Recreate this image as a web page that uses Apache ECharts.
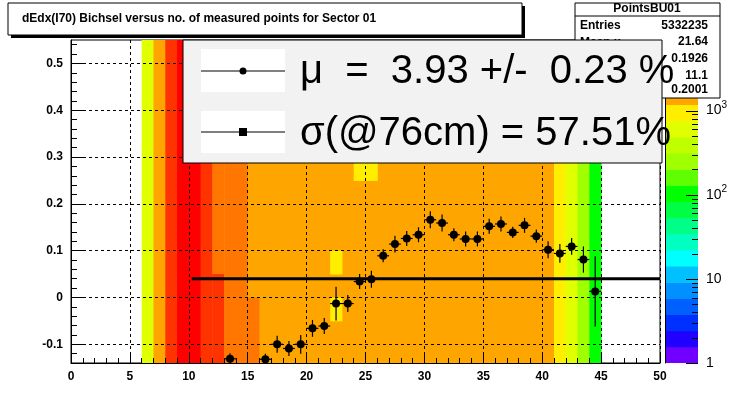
<!DOCTYPE html>
<html><head><meta charset="utf-8">
<script src="https://cdn.jsdelivr.net/npm/echarts@6/dist/echarts.min.js"></script>
<style>html,body{margin:0;padding:0;background:#fff}#c{width:735px;height:408px}</style>
</head><body><div id="c"></div>
<script>
// palette (bottom -> top of colour bar)
const palette = ['#7000ff','#2000ff','#0030ff','#0060ff','#0090ff','#00c0ff','#00ffff','#00ffc0','#00ff88','#00ff44',
  '#00ff00','#60ff00','#a0ff00','#c0ff00','#e0ff00','#ffee00','#ffa500','#ff7700','#ff3300','#ff0000'];
// heat cells: [x0, x1, y0, y1, paletteLevel]
const heatCells = [
  [6,7,-0.15,0.55,14],[7,8,-0.15,0.55,16],[8,9,-0.15,0.55,18],[9,11,-0.15,0.55,19],
  [11,12,-0.15,0.55,18],[12,13,0.05,0.55,17],[12,13,-0.15,0.05,18],[13,15,-0.15,0.55,17],
  [15,16,0,0.55,16],[15,16,-0.15,0,17],[16,41,-0.15,0.55,16],
  [22,23,0.05,0.1,15],[22,23,-0.05,0,15],[24,26,0.25,0.3,15],
  [41,42,-0.15,0.55,15],[42,43,-0.15,0.55,14],[43,44,-0.15,0.55,12],[44,45,-0.15,0.55,10]
];
// profile points
const px = [13.5,16.5,17.5,18.5,19.5,20.5,21.5,22.5,23.5,24.5,25.5,26.5,27.5,28.5,29.5,30.5,31.5,32.5,33.5,34.5,35.5,36.5,37.5,38.5,39.5,40.5,41.5,42.5,43.5,44.5];
const py = [-0.131,-0.132,-0.100,-0.109,-0.100,-0.066,-0.061,-0.013,-0.013,0.034,0.039,0.089,0.114,0.126,0.134,0.166,0.159,0.134,0.125,0.125,0.152,0.157,0.139,0.154,0.131,0.102,0.094,0.109,0.081,0.013];
const pe = [0.012,0.012,0.018,0.016,0.02,0.018,0.017,0.036,0.018,0.016,0.018,0.014,0.018,0.016,0.016,0.018,0.018,0.014,0.016,0.016,0.016,0.016,0.012,0.016,0.014,0.018,0.02,0.018,0.028,0.075];
const fitLine = [[10.25,0.04],[50,0.04]];
const yTicks = [-0.1,0,0.1,0.2,0.3,0.4,0.5];
const yMinor = [];
for (let k=-7;k<=27;k++) yMinor.push(+(k*0.02).toFixed(2));
const cbMax = 6900;
const cbMajor = [1,10,100,1000];
const cbTicks = [];
cbMajor.forEach(d=>{cbTicks.push([d,12]);for(let m=2;m<=9;m++){if(d*m<=cbMax)cbTicks.push([d*m,6]);}});
const cbBands = palette.map((c,i)=>[Math.pow(cbMax,i/palette.length),Math.pow(cbMax,(i+1)/palette.length),i]);

const F = 'Liberation Sans, Arial, sans-serif';
const chart = echarts.init(document.getElementById('c'));
const axisLbl = {color:'#000',fontFamily:F,fontWeight:'bold',fontSize:12};
chart.setOption({
  animation:false,
  grid:[{left:71,right:75,top:40,bottom:45,show:true,borderColor:'#000',borderWidth:1,backgroundColor:'transparent'},
        {left:665,width:33,top:40,bottom:45}],
  xAxis:[
    {type:'value',min:0,max:50,interval:5,gridIndex:0,z:5,
     axisLine:{onZero:false,lineStyle:{color:'#000'}},
     axisTick:{inside:true,length:9,lineStyle:{color:'#000'}},
     minorTick:{show:true,splitNumber:5,length:5,lineStyle:{color:'#000'}},
     splitLine:{show:true,lineStyle:{color:'#000',type:[3,3]}},
     axisLabel:{...axisLbl,margin:8}},
    {type:'value',min:0,max:1,gridIndex:1,show:false}
  ],
  yAxis:[
    {type:'value',min:-0.14,max:0.55,gridIndex:0,z:5,
     axisLine:{lineStyle:{color:'#000'}},
     axisTick:{inside:true,length:12,customValues:yTicks,lineStyle:{color:'#000'}},
     splitLine:{show:true,lineStyle:{color:'#000',type:[3,3]}},
     axisLabel:{...axisLbl,customValues:yTicks,formatter:v=>Math.abs(v)<1e-9?'0':v.toFixed(1)}},
    {type:'value',min:-0.14,max:0.55,gridIndex:0,z:5,position:'left',offset:0,
     axisLine:{show:false},splitLine:{show:false},axisLabel:{show:false},
     axisTick:{inside:true,length:6,customValues:yMinor,lineStyle:{color:'#000'}}},
    {type:'log',min:1,max:cbMax,logBase:10,gridIndex:1,position:'right',offset:0,z:5,
     axisLine:{lineStyle:{color:'#000'}},splitLine:{show:false},
     axisTick:{show:false},minorTick:{show:false},
     axisLabel:{margin:8,color:'#000',fontFamily:F,fontSize:14,showMaxLabel:false,
       formatter:v=>{const e=Math.round(Math.log10(v));return e===0?'1':e===1?'10':'{b|10}{s|'+e+'}';},
       rich:{b:{fontSize:14,fontFamily:F,color:'#000'},s:{fontSize:10,fontFamily:F,color:'#000',verticalAlign:'top',padding:[0,0,10,0]}}}}
  ],
  series:[
    {type:'custom',xAxisIndex:0,yAxisIndex:0,z:1,clip:true,data:heatCells,
     renderItem:(p,api)=>{
       const a=api.coord([api.value(0),api.value(3)]), b=api.coord([api.value(1),api.value(2)]);
       return {type:'rect',shape:{x:a[0],y:a[1],width:b[0]-a[0]+0.5,height:b[1]-a[1]+0.5},style:{fill:palette[api.value(4)]}};
     }},
    {type:'custom',xAxisIndex:1,yAxisIndex:2,z:1,clip:true,data:cbBands,
     renderItem:(p,api)=>{
       const a=api.coord([0,api.value(1)]), b=api.coord([1,api.value(0)]);
       return {type:'rect',shape:{x:a[0],y:a[1],width:b[0]-a[0],height:b[1]-a[1]+0.5},style:{fill:palette[api.value(2)]}};
     }},
    {type:'custom',xAxisIndex:1,yAxisIndex:2,z:6,data:cbTicks,
     renderItem:(p,api)=>{
       const a=api.coord([1,api.value(0)]);
       return {type:'line',shape:{x1:a[0]-api.value(1),y1:Math.round(a[1])+0.5,x2:a[0],y2:Math.round(a[1])+0.5},style:{stroke:'#000',lineWidth:1}};
     }},
    {type:'line',xAxisIndex:0,yAxisIndex:0,z:8,data:fitLine,symbol:'none',lineStyle:{color:'#000',width:3}},
    {type:'custom',xAxisIndex:0,yAxisIndex:0,z:10,clip:true,
     data:px.map((x,i)=>[x,py[i],pe[i]]),
     renderItem:(p,api)=>{
       const x=api.value(0),y=api.value(1),e=api.value(2);
       const c=api.coord([x,y]),l=api.coord([x-0.5,y]),r=api.coord([x+0.5,y]),t=api.coord([x,y+e]),b=api.coord([x,y-e]);
       return {type:'group',children:[
         {type:'line',shape:{x1:l[0],y1:l[1],x2:r[0],y2:r[1]},style:{stroke:'#000',lineWidth:1.2}},
         {type:'line',shape:{x1:t[0],y1:t[1],x2:b[0],y2:b[1]},style:{stroke:'#000',lineWidth:1.2}},
         {type:'circle',shape:{cx:c[0],cy:c[1],r:4},style:{fill:'#000'}}]};
     }}
  ],
  graphic:[
    {type:'rect',z:20,shape:{x:11,y:6,width:514,height:32},style:{fill:'#000'}},
    {type:'rect',z:21,shape:{x:8,y:3,width:514,height:32},style:{fill:'#fff',stroke:'#000',lineWidth:1}},
    {type:'text',z:22,x:22,y:19,style:{text:'dEdx(I70) Bichsel versus no. of measured points for Sector 01',font:'bold 12px '+F,fill:'#000',verticalAlign:'middle'}},
    {type:'rect',z:20,shape:{x:575,y:3,width:145,height:95},style:{fill:'#fff',stroke:'#000',lineWidth:1}},
    {type:'line',z:21,shape:{x1:575,y1:16,x2:720,y2:16},style:{stroke:'#000'}},
    {type:'text',z:21,x:647,y:9,style:{text:'PointsBU01',font:'bold 12px '+F,fill:'#000',align:'center',verticalAlign:'middle'}},
    {type:'text',z:21,x:580,y:26,style:{text:'Entries',font:'bold 12px '+F,fill:'#000',verticalAlign:'middle'}},
    {type:'text',z:21,x:708,y:26,style:{text:'5332235',font:'bold 12px '+F,fill:'#000',align:'right',verticalAlign:'middle'}},
    {type:'text',z:21,x:580,y:43,style:{text:'Mean x',font:'bold 12px '+F,fill:'#000',verticalAlign:'middle'}},
    {type:'text',z:21,x:708,y:42,style:{text:'21.64',font:'bold 12px '+F,fill:'#000',align:'right',verticalAlign:'middle'}},
    {type:'text',z:21,x:708,y:59,style:{text:'0.1926',font:'bold 12px '+F,fill:'#000',align:'right',verticalAlign:'middle'}},
    {type:'text',z:21,x:708,y:76,style:{text:'11.1',font:'bold 12px '+F,fill:'#000',align:'right',verticalAlign:'middle'}},
    {type:'text',z:21,x:708,y:90,style:{text:'0.2001',font:'bold 12px '+F,fill:'#000',align:'right',verticalAlign:'middle'}},
    {type:'rect',z:30,shape:{x:183,y:40,width:479,height:123},style:{fill:'#f2f2f2',stroke:'#000',lineWidth:1}},
    {type:'rect',z:31,shape:{x:201,y:49,width:84,height:43},style:{fill:'#fff'}},
    {type:'rect',z:31,shape:{x:201,y:111,width:84,height:42},style:{fill:'#fff'}},
    {type:'line',z:32,shape:{x1:201,y1:71,x2:285,y2:71},style:{stroke:'#000'}},
    {type:'line',z:32,shape:{x1:201,y1:132,x2:285,y2:132},style:{stroke:'#000'}},
    {type:'circle',z:33,shape:{cx:243,cy:71,r:3.5},style:{fill:'#000'}},
    {type:'rect',z:33,shape:{x:239,y:128,width:8,height:8},style:{fill:'#000'}},
    {type:'text',z:33,x:300,y:72,style:{text:'μ  =  3.93 +/-  0.23 %',font:'40px '+F,fill:'#000',verticalAlign:'middle'}},
    {type:'text',z:33,x:300,y:134,style:{text:'σ(@76cm) = 57.51%',font:'40px '+F,fill:'#000',verticalAlign:'middle'}}
  ]
});
</script></body></html>
